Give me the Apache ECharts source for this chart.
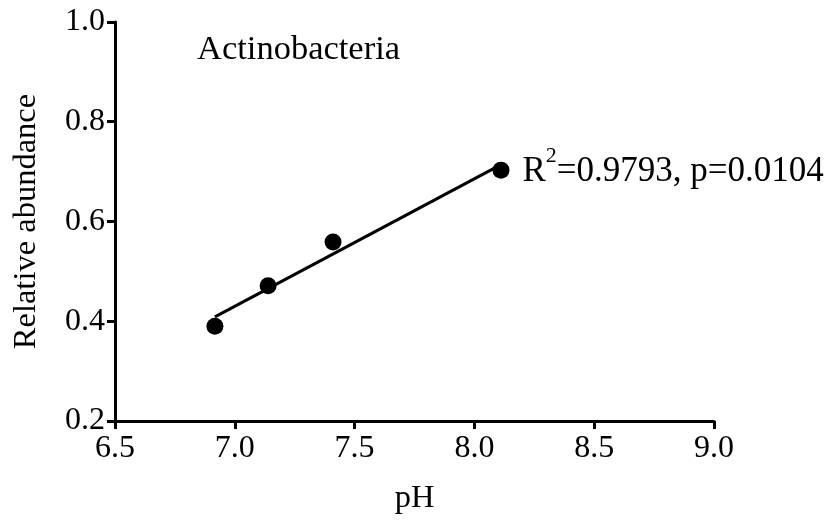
<!DOCTYPE html>
<html>
<head>
<meta charset="utf-8">
<script src="https://cdn.jsdelivr.net/npm/echarts@6/dist/echarts.min.js"></script>
<style>
  html, body { margin: 0; padding: 0; background: #fff; }
  #chart { width: 832px; height: 527px; }
</style>
</head>
<body>
<div id="chart"></div>
<script>
// Soil pH vs. relative abundance of Actinobacteria
const phValues = [6.917, 7.139, 7.41, 8.111];
const abundance = [0.390, 0.471, 0.559, 0.703];
const xTicks = [6.5, 7.0, 7.5, 8.0, 8.5, 9.0];
const yTicks = [0.2, 0.4, 0.6, 0.8, 1.0];
const groupName = 'Actinobacteria';
const rSquared = '0.9793';
const pValue = '0.0104';

// least-squares fit through the measured points
function linearFit(xs, ys) {
  const n = xs.length;
  const mx = xs.reduce((a, b) => a + b, 0) / n;
  const my = ys.reduce((a, b) => a + b, 0) / n;
  let sxy = 0, sxx = 0;
  for (let i = 0; i < n; i++) {
    sxy += (xs[i] - mx) * (ys[i] - my);
    sxx += (xs[i] - mx) * (xs[i] - mx);
  }
  const slope = sxy / sxx;
  return { slope, intercept: my - slope * mx };
}
const fit = linearFit(phValues, abundance);
const xMin = Math.min(...phValues), xMax = Math.max(...phValues);
const fitLine = [[xMin, fit.intercept + fit.slope * xMin], [xMax, fit.intercept + fit.slope * xMax]];

const points = phValues.map((x, i) => [x, abundance[i]]);
const lastIdx = points.length - 1;

const FONT = '"Liberation Serif", "Times New Roman", serif';
const axisStyle = {
  axisLine: { show: true, onZero: false, lineStyle: { color: '#000', width: 3 } },
  axisTick: { show: true, inside: false, length: 8, lineStyle: { color: '#000', width: 3 } },
  splitLine: { show: false },
  nameTextStyle: { fontFamily: FONT, fontSize: 32.5, color: '#000' }
};

const chart = echarts.init(document.getElementById('chart'));
chart.setOption({
  backgroundColor: '#fff',
  animation: false,
  grid: { left: 115, right: 118, top: 22, bottom: 106, containLabel: false },
  xAxis: Object.assign({
    type: 'value',
    min: xTicks[0], max: xTicks[xTicks.length - 1], interval: 0.5,
    name: 'pH', nameLocation: 'middle', nameGap: 61,
    axisLabel: { fontFamily: FONT, fontSize: 32, color: '#000', margin: 12,
      formatter: v => v.toFixed(1) }
  }, axisStyle),
  yAxis: Object.assign({
    type: 'value',
    min: yTicks[0], max: yTicks[yTicks.length - 1], interval: 0.2,
    name: 'Relative abundance', nameLocation: 'middle', nameGap: 72,
    axisLabel: { fontFamily: FONT, fontSize: 32, color: '#000', margin: 10,
      formatter: v => v.toFixed(1) }
  }, axisStyle),
  graphic: [{
    type: 'text', left: 197, top: 32,
    style: { text: groupName, font: '34.5px ' + FONT, fill: '#000' }
  }],
  series: [
    {
      type: 'line', data: fitLine, symbol: 'none', silent: true,
      lineStyle: { color: '#000', width: 3 }, z: 2
    },
    {
      type: 'scatter', symbol: 'circle', symbolSize: 17,
      itemStyle: { color: '#000', opacity: 1 }, z: 3,
      data: points.map((p, i) => i === lastIdx ? {
        value: p,
        label: {
          show: true, position: 'right', distance: 13, offset: [0, -3],
          formatter: '{t|R}{s|2}{t|=' + rSquared + ', p=' + pValue + '}',
          rich: {
            t: { fontFamily: FONT, fontSize: 35, color: '#000', verticalAlign: 'bottom', lineHeight: 44 },
            s: { fontFamily: FONT, fontSize: 22, color: '#000', verticalAlign: 'top', lineHeight: 22 }
          }
        }
      } : p)
    }
  ]
});
</script>
</body>
</html>
